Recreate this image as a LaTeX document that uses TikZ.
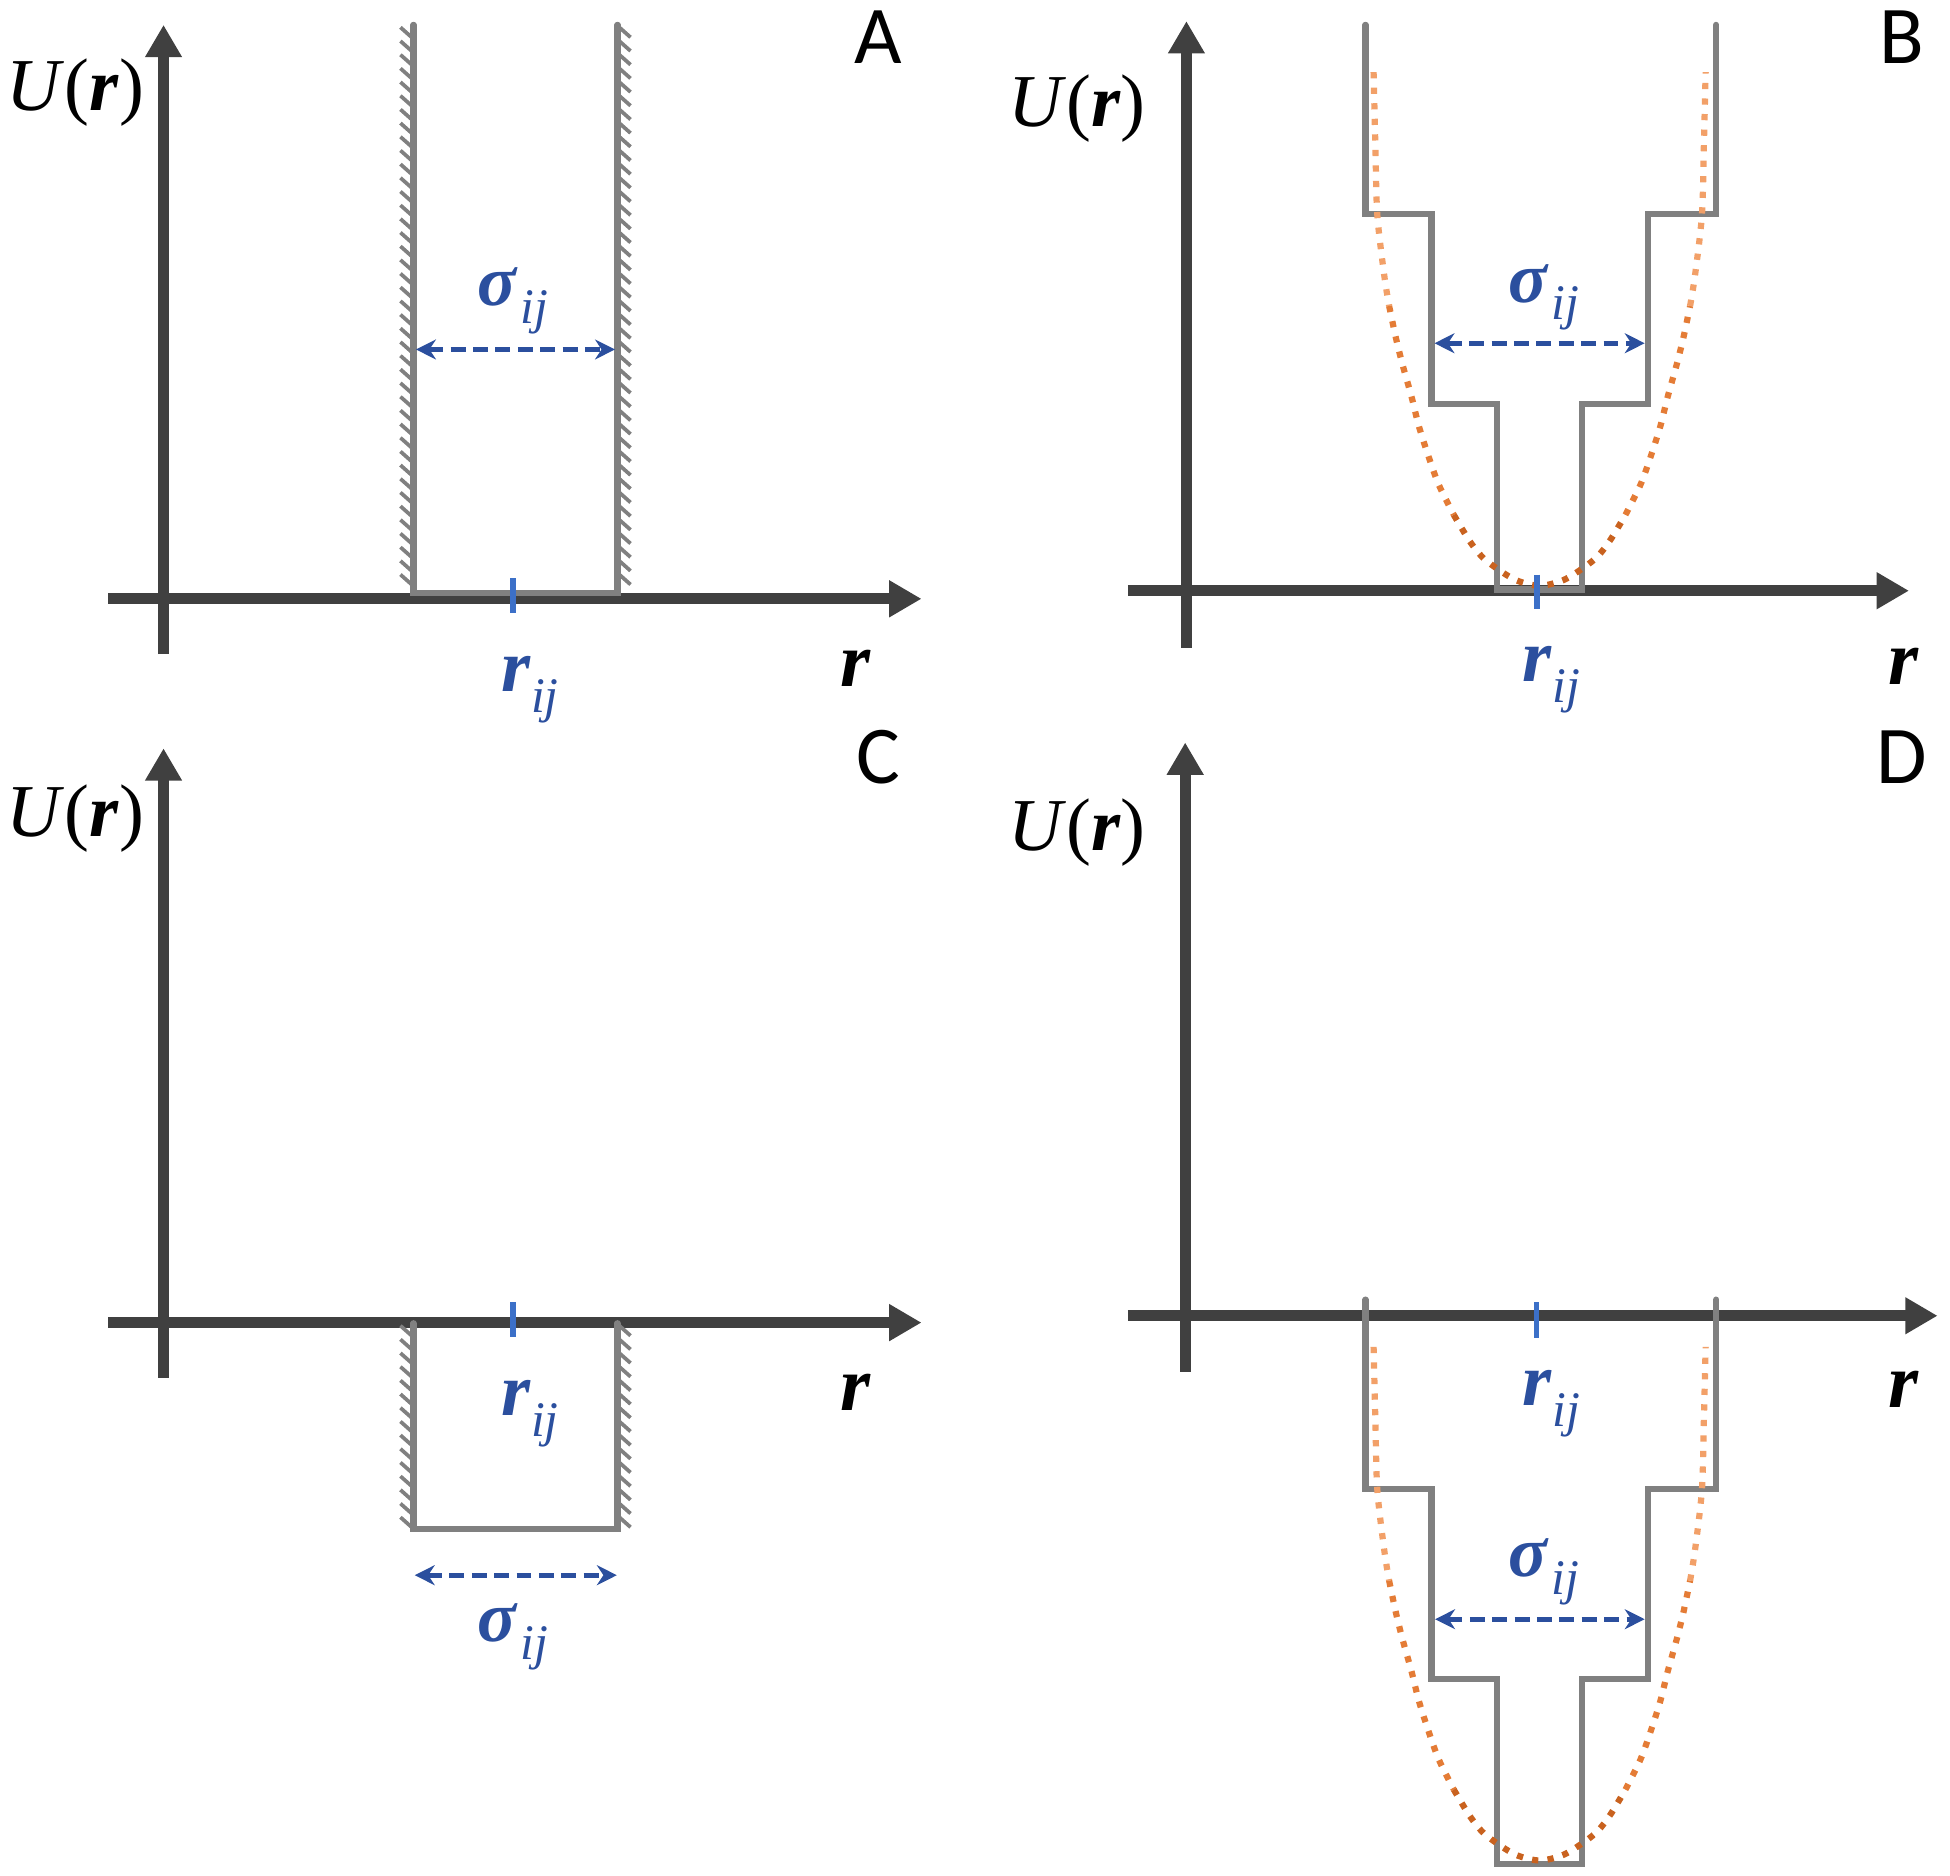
\documentclass[tikz,border=0pt]{standalone}
\usepackage{fontspec}
\setmainfont{Liberation Serif}[ItalicFont={Liberation Serif Italic}, BoldFont={Liberation Serif Bold}, BoldItalicFont={Liberation Serif Bold Italic}]
\newfontfamily\panelfont{Carlito}
\usetikzlibrary{arrows.meta}
\definecolor{axisgray}{HTML}{404040}
\definecolor{wallgray}{HTML}{808080}
\definecolor{sigblue}{HTML}{2B4F9E}
\definecolor{tickblue}{HTML}{3C70C8}
\definecolor{orangetop}{HTML}{F2A068}
\definecolor{orangemid}{HTML}{E47C36}
\definecolor{orangelow}{HTML}{C9621F}
\newcommand{\Ulab}{{\fontsize{60}{60}\selectfont\textit{U}(\textbf{\textit{r}})}}
\newcommand{\rlab}{{\fontsize{62}{62}\selectfont\textbf{\textit{r}}}}
\newcommand{\rij}{{\color{sigblue}\fontsize{60}{60}\selectfont\textbf{\textit{r}}\raisebox{-17pt}{\fontsize{40}{40}\selectfont\textit{ij}}}}
\newcommand{\sij}{{\color{sigblue}\fontsize{58}{58}\selectfont\textbf{\textit{σ}}\hspace{2pt}\raisebox{-14pt}{\fontsize{40}{40}\selectfont\textit{ij}}}}
\newcommand{\panellab}[1]{{\panelfont\fontsize{66}{66}\selectfont #1}}
\newcommand{\wellshape}{%
  \draw[wall] (1098,20) -- (1098,172) -- (1151,172) -- (1151,325) -- (1204,325) -- (1204,474) -- (1272,474) -- (1272,325) -- (1325,325) -- (1325,172) -- (1380,172) -- (1380,20);
  \draw[orangedot, draw=orangetop] plot[smooth] coordinates {(1104.5,58) (1106,120) (1107.5,173) (1113,221) (1117,246)};
  \draw[orangedot, draw=orangemid] plot[smooth] coordinates {(1117,246) (1122.5,272) (1128,294) (1135,319) (1141,343) (1149,368) (1157,390) (1169,414)};
  \draw[orangedot, draw=orangelow] plot[smooth] coordinates {(1169,414) (1181,434) (1191,447) (1202,456) (1219,466.5) (1238,471) (1257,466.5) (1274,456) (1285,447) (1295,434) (1307,414)};
  \draw[orangedot, draw=orangemid] plot[smooth] coordinates {(1307,414) (1319,390) (1327,368) (1335,343) (1341,319) (1348,294) (1353.5,272) (1359,246)};
  \draw[orangedot, draw=orangetop] plot[smooth] coordinates {(1359,246) (1363,221) (1368.5,173) (1370,120) (1371.5,58)};
}
\tikzset{
  axis/.style={line width=9pt, draw=axisgray, -{Triangle[length=26pt,width=28pt]}},
  wall/.style={line width=5pt, draw=wallgray, line join=miter, line cap=round},
  hatch/.style={line width=3pt, draw=wallgray},
  sigarrow/.style={line width=4pt, draw=sigblue, dash pattern=on 12pt off 6pt, {Stealth[length=16pt,width=16pt]}-{Stealth[length=16pt,width=16pt]}},
  tickmark/.style={line width=4.5pt, draw=tickblue},
  orangedot/.style={line width=5pt, dash pattern=on 5pt off 7.5pt},
  lbl/.style={inner sep=0pt, anchor=base west},
  plbl/.style={inner sep=0pt, anchor=base},
}
\begin{document}
\begin{tikzpicture}[x=1pt,y=-1pt]
\useasboundingbox (0,0) rectangle (1568,1508);
% ---------------- Panel A ----------------
\draw[axis] (87,481.5) -- (741,481.5);
\draw[axis] (131.5,526) -- (131.5,20);
\foreach \y in {22,33,...,470} \draw[hatch] (322,\y) -- (331,\y+8);
\foreach \y in {22,33,...,470} \draw[hatch] (498,\y) -- (507,\y+8);
\draw[wall] (332.5,20) -- (332.5,477) -- (496.5,477) -- (496.5,20);
\draw[tickmark] (412.3,465) -- (412.3,493);
\coordinate (aL) at (334.5,281);
\coordinate (aR) at (494.5,281);
\draw[sigarrow] (aL) -- (aR);
\node[lbl] (aU) at (5.4,88.5) {\Ulab};
\node[lbl] (ar) at (675.5,552) {\rlab};
\node[lbl] (arij) at (403,556) {\rij};
\node[lbl] (asig) at (384,246) {\sij};
\node[plbl] (aA) at (706,51) {\panellab{A}};
% ---------------- Panel B ----------------
\draw[axis] (907,475) -- (1535,475);
\draw[axis] (954,521) -- (954,17);
\wellshape
\draw[tickmark] (1236,462) -- (1236,490);
\coordinate (bL) at (1153.5,276);
\coordinate (bR) at (1322.5,276);
\draw[sigarrow] (bL) -- (bR);
\node[lbl] (bU) at (810.6,101.9) {\Ulab};
\node[lbl] (br) at (1518,550) {\rlab};
\node[lbl] (brij) at (1224.4,548) {\rij};
\node[lbl] (bsig) at (1213,243) {\sij};
\node[plbl] (bB) at (1529,51) {\panellab{B}};
% ---------------- Panel C ----------------
\draw[axis] (87,1063.5) -- (741,1063.5);
\draw[axis] (131.5,1108) -- (131.5,601.7);
\foreach \y in {1066,1077,...,1226} \draw[hatch] (322,\y) -- (331,\y+8);
\foreach \y in {1066,1077,...,1226} \draw[hatch] (498,\y) -- (507,\y+8);
\draw[wall] (332.5,1064) -- (332.5,1229.5) -- (496.5,1229.5) -- (496.5,1064);
\draw[tickmark] (412.3,1047) -- (412.3,1075);
\coordinate (cL) at (333.5,1266.6);
\coordinate (cR) at (496,1266.6);
\draw[sigarrow] (cL) -- (cR);
\node[lbl] (cU) at (5.4,673) {\Ulab};
\node[lbl] (cr) at (675.5,1134) {\rlab};
\node[lbl] (crij) at (403,1138) {\rij};
\node[lbl] (csig) at (384,1320) {\sij};
\node[plbl] (cC) at (706,630) {\panellab{C}};
% ---------------- Panel D ----------------
\draw[axis] (907,1058) -- (1558,1058);
\draw[axis] (953,1103) -- (953,597);
\begin{scope}[yshift=-1025pt]
\wellshape
\end{scope}
\draw[tickmark] (1235.5,1047) -- (1235.5,1076);
\coordinate (dL) at (1154,1302);
\coordinate (dR) at (1322.5,1302);
\draw[sigarrow] (dL) -- (dR);
\node[lbl] (dU) at (810.6,683.5) {\Ulab};
\node[lbl] (dr) at (1518,1132) {\rlab};
\node[lbl] (drij) at (1224.4,1130) {\rij};
\node[lbl] (dsig) at (1213,1268) {\sij};
\node[plbl] (dD) at (1529,630) {\panellab{D}};
\end{tikzpicture}
\end{document}
